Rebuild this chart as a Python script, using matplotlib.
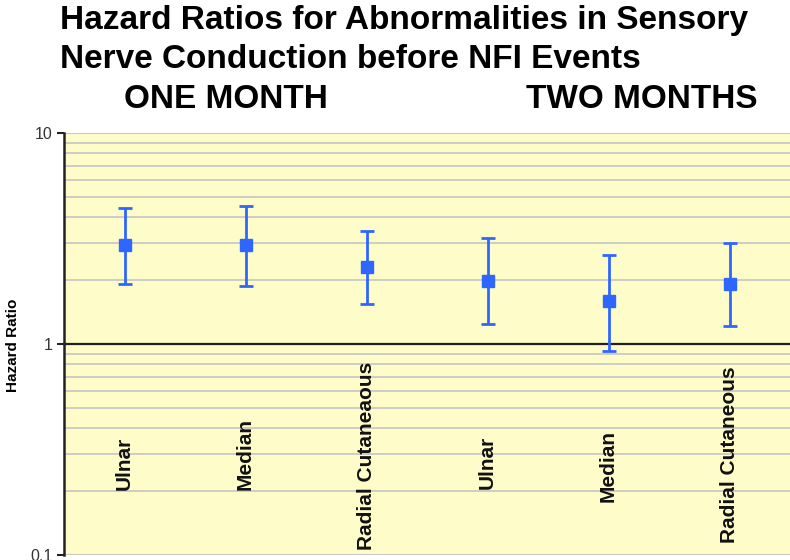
#!/usr/bin/env python3
"""Hazard ratios (log scale) for sensory nerve conduction abnormalities before NFI events."""

import matplotlib
matplotlib.use("Agg")
import matplotlib.pyplot as plt
from matplotlib.ticker import LogLocator, NullFormatter, FixedLocator, FixedFormatter

plt.rcParams["font.family"] = ["Liberation Sans", "DejaVu Sans"]

# data
nerves = ["Ulnar", "Median", "Radial Cutaneaous", "Ulnar", "Median", "Radial Cutaneous"]
hazard_ratio = [2.95, 2.95, 2.32, 1.99, 1.60, 1.92]
ci_low = [1.92, 1.88, 1.55, 1.25, 0.93, 1.22]
ci_high = [4.41, 4.51, 3.43, 3.17, 2.64, 3.02]
label_base = [0.203, 0.203, 0.106, 0.205, 0.178, 0.114]  # bottom of each rotated label
periods = ["ONE MONTH", "TWO MONTHS"]

BLUE = "#2f66ff"
BG = "#fefdc9"
GRID = "#c9c9c4"

fig = plt.figure(figsize=(7.9, 5.6), dpi=100)
ax = fig.add_axes([64 / 790, 5 / 560, 1 - 64 / 790, 422 / 560])
ax.set_facecolor(BG)

x = list(range(len(nerves)))
yerr = [[h - lo for h, lo in zip(hazard_ratio, ci_low)],
        [hi - h for h, hi in zip(hazard_ratio, ci_high)]]
ax.errorbar(x, hazard_ratio, yerr=yerr, fmt="s", color=BLUE, ms=8,
            elinewidth=2, capsize=5, capthick=2, zorder=3)

ax.set_yscale("log")
ax.set_ylim(0.1, 10)
ax.set_xlim(-0.5, len(nerves) - 0.5)

# grid: light lines at every 2..9 step, black reference at 1
ax.yaxis.set_minor_locator(LogLocator(base=10, subs=range(2, 10)))
ax.yaxis.set_minor_formatter(NullFormatter())
ax.grid(True, which="minor", axis="y", color=GRID, lw=1.3, zorder=1)
ax.axhline(10, color=GRID, lw=1.5, zorder=1)
ax.axhline(0.1, color=GRID, lw=1.5, zorder=1)
ax.axhline(1, color="#222222", lw=1.6, zorder=2)

ax.yaxis.set_major_locator(FixedLocator([0.1, 1, 10]))
ax.yaxis.set_major_formatter(FixedFormatter(["0.1", "1", "10"]))
ax.tick_params(axis="y", which="major", length=5, width=1.5, color="#222222",
               labelsize=11.5, labelcolor="#333333", pad=3)
ax.tick_params(axis="y", which="minor", length=0)
ax.set_xticks([])
for side in ("top", "right", "bottom"):
    ax.spines[side].set_visible(False)
ax.spines["left"].set_linewidth(1.8)
ax.spines["left"].set_color("#222222")

fig.text(13 / 790, 1 - 345 / 560, "Hazard Ratio", rotation=90,
         fontsize=11, fontweight="bold", ha="center", va="center")

for xi, name, base in zip(x, nerves, label_base):
    ax.text(xi, base, name, rotation=90, ha="center", va="bottom",
            fontsize=15, fontweight="bold", color="#111111", zorder=4)

title_kw = dict(fontsize=24, fontweight="bold", va="center")
fig.text(60 / 790, 1 - 20 / 560, "Hazard Ratios for Abnormalities in Sensory",
         ha="left", **title_kw)
fig.text(60 / 790, 1 - 60 / 560, "Nerve Conduction before NFI Events",
         ha="left", **title_kw)
fig.text(226 / 790, 1 - 100 / 560, periods[0], ha="center", **title_kw)
fig.text(642 / 790, 1 - 100 / 560, periods[1], ha="center", **title_kw)

fig.savefig("out.png", dpi=100, facecolor="white")
